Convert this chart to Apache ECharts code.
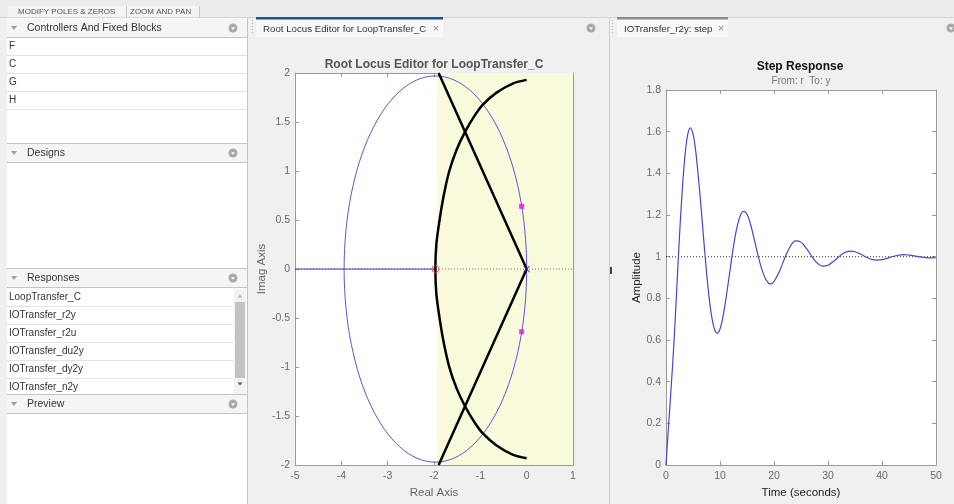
<!DOCTYPE html>
<html>
<head>
<meta charset="utf-8">
<script src="https://cdn.jsdelivr.net/npm/echarts@6/dist/echarts.min.js"></script>
<style>
html,body{margin:0;padding:0;background:#f0f0f0;}
#c{width:954px;height:504px;}
</style>
</head>
<body>
<div id="c"></div>
<script>
// ---------- Root locus data ----------
const rlXRange = [-5, 1];
const rlYRange = [-2, 2];
const arcReal = [-1.97, -1.95, -1.88, -1.79, -1.67, -1.51, -1.33, -1.13, -0.94, -0.65, -0.29, 0.0];
const arcImag = [0.00, 0.25, 0.50, 0.75, 1.00, 1.22, 1.40, 1.56, 1.68, 1.80, 1.895, 1.93];
const rayReal = [-1.90, 0.0, -1.90];
const rayImag = [2.0, 0.0, -2.0];
const zeroPoint = [-1.97, 0];
const polePoint = [0, 0];
const closedLoopPoles = [[-0.11, 0.64], [-0.11, -0.64]];
const circleCenter = -1.97;
const circleRadius = 1.97;
const regionLeft = -1.93;

// ---------- Step response data ----------
const stepTime = [0,0.25,0.5,1,1.5,2,2.5,3,3.5,4,4.5,5,5.5,6,6.5,7,7.5,8,8.5,9,9.5,10,10.5,11,11.5,12,12.5,13,13.5,14,14.5,15,15.5,16,16.5,17,17.5,18,18.5,19,19.5,20,21,22,23,24,25,26,27,28,29,30,31,32,33,34,35,36,37,38,39,40,41,42,43,44,45,46,47,48,49,50];
const stepAmp = [0,0.1,0.2,0.39,0.6,0.85,1.1,1.316,1.481,1.583,1.618,1.589,1.507,1.38,1.234,1.077,0.927,0.8,0.707,0.65,0.633,0.653,0.706,0.781,0.87,0.962,1.05,1.124,1.177,1.211,1.218,1.204,1.17,1.121,1.066,1.011,0.961,0.92,0.891,0.873,0.87,0.881,0.929,0.994,1.049,1.076,1.07,1.04,1.002,0.97,0.955,0.959,0.977,1.0,1.019,1.027,1.024,1.013,0.999,0.988,0.984,0.986,0.993,1.001,1.007,1.01,1.008,1.004,0.999,0.996,0.994,0.995];
const stepXRange = [0, 50];
const stepYRange = [0, 1.8];

// ---------- UI texts ----------
const toolTabs = ['MODIFY POLES & ZEROS', 'ZOOM AND PAN'];
const blockItems = ['F', 'C', 'G', 'H'];
const responseItems = ['LoopTransfer_C', 'IOTransfer_r2y', 'IOTransfer_r2u', 'IOTransfer_du2y', 'IOTransfer_dy2y', 'IOTransfer_n2y'];
const panelHeaders = ['Controllers And Fixed Blocks', 'Designs', 'Responses', 'Preview'];

const FONT = "'Liberation Sans', Arial, sans-serif";

// ---------- chrome graphics ----------
const g = [];
function rect(x, y, w, h, fill, stroke) {
  g.push({type: 'rect', silent: true, shape: {x: x, y: y, width: w, height: h},
    style: stroke ? {fill: fill, stroke: stroke, lineWidth: 1} : {fill: fill}});
}
function hline(x1, x2, y, c) {
  g.push({type: 'line', silent: true, shape: {x1: x1, y1: y + 0.5, x2: x2, y2: y + 0.5}, style: {stroke: c, lineWidth: 1}});
}
function vline(x, y1, y2, c, dash) {
  g.push({type: 'line', silent: true, shape: {x1: x + 0.5, y1: y1, x2: x + 0.5, y2: y2}, style: {stroke: c, lineWidth: 1, lineDash: dash || null}});
}
function txt(x, y, t, size, color, opt) {
  opt = opt || {};
  g.push({type: 'text', silent: true, x: x, y: y, rotation: opt.rot || 0,
    style: {text: t, fill: color, fontSize: size, fontFamily: FONT, fontWeight: opt.bold ? 'bold' : 'normal',
      align: opt.align || 'left', verticalAlign: 'middle'}});
}
function tri(cx, cy, w, h, c, up) {
  const pts = up ? [[cx - w / 2, cy + h / 2], [cx + w / 2, cy + h / 2], [cx, cy - h / 2]]
                 : [[cx - w / 2, cy - h / 2], [cx + w / 2, cy - h / 2], [cx, cy + h / 2]];
  g.push({type: 'polygon', silent: true, shape: {points: pts}, style: {fill: c}});
}
function gear(cx, cy) {
  g.push({type: 'circle', silent: true, shape: {cx: cx, cy: cy, r: 4.5}, style: {fill: '#a9a9a9'}});
  tri(cx, cy + 0.5, 4, 2.5, '#ffffff', false);
}

// top tool tabs
rect(0, 0, 954, 17, '#ececec');
rect(8, 6, 192, 11, '#f3f3f3');
txt(18, 12, toolTabs[0], 8, '#555');
vline(126, 6, 17, '#c8c8c8');
txt(130, 12, toolTabs[1], 8, '#555');
vline(199, 6, 17, '#c8c8c8');
hline(0, 954, 17, '#d6d6d6');

// left panel
const LX = 7, LW = 240;
function header(y, label) {
  rect(LX, y, LW, 18, '#f5f5f5');
  hline(LX, LX + LW, y + 18, '#c4c4c4');
  tri(14, y + 9, 6, 4, '#a0a0a0', false);
  txt(27, y + 9.5, label, 10.5, '#333');
  gear(233, y + 9);
}
rect(LX, 18, LW, 486, '#ffffff');
header(19, panelHeaders[0]);
blockItems.forEach(function (b, i) {
  txt(9, 46 + i * 18, b, 10, '#333');
  hline(LX, LX + LW, 55 + i * 18, '#e2e2e2');
});
hline(LX, LX + LW, 143, '#c4c4c4');
header(144, panelHeaders[1]);
hline(LX, LX + LW, 268, '#c4c4c4');
header(269, panelHeaders[2]);
responseItems.forEach(function (r, i) {
  txt(9, 297 + i * 18, r, 10, '#333');
  if (i < responseItems.length - 1) hline(LX, 233, 306 + i * 18, '#e2e2e2');
});
// scrollbar
rect(234, 289, 12, 106, '#f2f2f2');
rect(235, 302, 10, 76, '#c2c2c2');
tri(240, 296, 5, 3, '#b0b0b0', true);
tri(240, 384, 5, 3, '#555', false);
hline(LX, LX + LW, 394, '#c4c4c4');
header(395, panelHeaders[3]);
vline(247, 18, 504, '#c4c4c4');

// middle panel chrome
vline(252, 20, 34, '#b8b8b8', [1, 2]);
rect(256, 17, 187, 20, '#f8f8f8');
rect(256, 17, 187, 2.5, '#1f5494');
txt(263, 29, 'Root Locus Editor for LoopTransfer_C', 9.7, '#333');
txt(436, 29, '\u00d7', 11, '#888', {align: 'center'});
gear(591, 28);
vline(609, 17, 504, '#cfcfcf');
vline(612, 20, 34, '#b8b8b8', [1, 2]);
rect(610, 267, 2, 7, '#444');

// right panel chrome
rect(617, 17, 111, 20, '#f8f8f8');
rect(617, 17, 111, 2.5, '#8a8a8a');
txt(624, 29, 'IOTransfer_r2y: step', 9.7, '#333');
txt(721, 29, '\u00d7', 11, '#888', {align: 'center'});
gear(951, 28);

// plot titles and subtitles
txt(434, 65, 'Root Locus Editor for LoopTransfer_C', 12, '#555', {bold: true, align: 'center'});
txt(800, 67, 'Step Response', 12, '#111', {bold: true, align: 'center'});
txt(801, 81, 'From: r  To: y', 10, '#777', {align: 'center'});

// ---------- axes ----------
const axisGray = '#9a9a9a';
function xAx(gi, range, interval, pos, name, nameColor, labels) {
  return {type: 'value', gridIndex: gi, min: range[0], max: range[1], interval: interval, position: pos,
    axisLine: {show: true, onZero: false, lineStyle: {color: axisGray}},
    axisTick: {show: true, inside: true, length: 4, lineStyle: {color: axisGray}},
    axisLabel: {show: labels, color: '#6a6a6a', fontSize: 10.5, fontFamily: FONT, margin: 6},
    splitLine: {show: false},
    name: labels ? name : '', nameLocation: 'middle', nameGap: 19,
    nameTextStyle: {color: nameColor, fontSize: 11.5, fontFamily: FONT}};
}
function yAx(gi, range, interval, pos, name, nameColor, labels, gap, fmt) {
  return {type: 'value', gridIndex: gi, min: range[0], max: range[1], interval: interval, position: pos,
    axisLine: {show: true, onZero: false, lineStyle: {color: axisGray}},
    axisTick: {show: true, inside: true, length: 4, lineStyle: {color: axisGray}},
    axisLabel: {show: labels, color: '#6a6a6a', fontSize: 10.5, fontFamily: FONT, margin: 5, formatter: fmt},
    splitLine: {show: false},
    name: labels ? name : '', nameLocation: 'middle', nameGap: gap,
    nameTextStyle: {color: nameColor, fontSize: 11.5, fontFamily: FONT}};
}
const fmt1 = function (v) { return String(Math.round(v * 10) / 10); };

const arcData = [];
for (let i = arcReal.length - 1; i >= 0; i--) arcData.push([arcReal[i], -arcImag[i]]);
for (let i = 1; i < arcReal.length; i++) arcData.push([arcReal[i], arcImag[i]]);
const rayData = rayReal.map(function (x, i) { return [x, rayImag[i]]; });
const stepData = stepTime.map(function (t, i) { return [t, stepAmp[i]]; });

const option = {
  backgroundColor: '#f0f0f0',
  animation: false,
  graphic: {elements: g},
  grid: [
    {left: 295, top: 73, width: 278, height: 394, show: true, backgroundColor: '#ffffff', borderWidth: 0},
    {left: 666, top: 90, width: 270, height: 377, show: true, backgroundColor: '#ffffff', borderWidth: 0}
  ],
  xAxis: [
    xAx(0, rlXRange, 1, 'bottom', 'Real Axis', '#666', true),
    xAx(0, rlXRange, 1, 'top', '', '#666', false),
    xAx(1, stepXRange, 10, 'bottom', 'Time (seconds)', '#222', true),
    xAx(1, stepXRange, 10, 'top', '', '#222', false)
  ],
  yAxis: [
    yAx(0, rlYRange, 0.5, 'left', 'Imag Axis', '#666', true, 26, fmt1),
    yAx(0, rlYRange, 0.5, 'right', '', '#666', false, 0, fmt1),
    yAx(1, stepYRange, 0.2, 'left', 'Amplitude', '#222', true, 22, fmt1),
    yAx(1, stepYRange, 0.2, 'right', '', '#222', false, 0, fmt1)
  ],
  series: [
    {type: 'line', xAxisIndex: 0, yAxisIndex: 0, data: [], z: 1, silent: true,
      markArea: {silent: true, itemStyle: {color: '#f9f9dc'},
        data: [[{coord: [regionLeft, rlYRange[0]]}, {coord: [rlXRange[1], rlYRange[1]]}]]}},
    {type: 'line', xAxisIndex: 0, yAxisIndex: 0, z: 2, silent: true, showSymbol: false,
      data: [[rlXRange[0], 0], [rlXRange[1], 0]], lineStyle: {color: '#777', width: 1, type: [1, 2]}},
    {type: 'custom', xAxisIndex: 0, yAxisIndex: 0, z: 3, silent: true,
      data: [[circleCenter, circleRadius]],
      renderItem: function (params, api) {
        const cx = api.value(0), r = api.value(1);
        const c = api.coord([cx, 0]);
        const px = api.coord([cx + r, 0]);
        const py = api.coord([cx, r]);
        return {type: 'ellipse', shape: {cx: c[0], cy: c[1], rx: px[0] - c[0], ry: c[1] - py[1]},
          style: {fill: 'none', stroke: '#5a5ad6', lineWidth: 1}};
      }},
    {type: 'line', xAxisIndex: 0, yAxisIndex: 0, z: 3, silent: true, showSymbol: false,
      data: [[rlXRange[0], 0], zeroPoint], lineStyle: {color: '#3c3cc8', width: 1}},
    {type: 'line', xAxisIndex: 0, yAxisIndex: 0, z: 4, silent: true, showSymbol: false, smooth: 0.3,
      data: arcData, lineStyle: {color: '#000', width: 2.5}},
    {type: 'line', xAxisIndex: 0, yAxisIndex: 0, z: 4, silent: true, showSymbol: false,
      data: rayData, lineStyle: {color: '#000', width: 2.5}},
    {type: 'scatter', xAxisIndex: 0, yAxisIndex: 0, z: 5, silent: true, symbol: 'circle', symbolSize: 7,
      data: [zeroPoint], itemStyle: {color: 'rgba(0,0,0,0)', borderColor: '#e03a3a', borderWidth: 1}},
    {type: 'scatter', xAxisIndex: 0, yAxisIndex: 0, z: 5, silent: true,
      symbol: 'path://M0,0L10,10M10,0L0,10', symbolSize: 6,
      data: [polePoint], itemStyle: {color: 'rgba(0,0,0,0)', borderColor: '#3030d0', borderWidth: 1.2}},
    {type: 'scatter', xAxisIndex: 0, yAxisIndex: 0, z: 6, silent: true, symbol: 'rect', symbolSize: 5,
      data: closedLoopPoles, itemStyle: {color: '#ff00ff'}},
    {type: 'line', xAxisIndex: 2, yAxisIndex: 2, z: 2, silent: true, showSymbol: false,
      data: [[stepXRange[0], 1], [stepXRange[1], 1]], lineStyle: {color: '#333', width: 1, type: [1, 2]}},
    {type: 'line', xAxisIndex: 2, yAxisIndex: 2, z: 3, silent: true, showSymbol: false, smooth: 0.35,
      data: stepData, lineStyle: {color: '#4646d2', width: 1.2}}
  ]
};
const chart = echarts.init(document.getElementById('c'), null, {renderer: 'canvas'});
chart.setOption(option);
</script>
</body>
</html>
